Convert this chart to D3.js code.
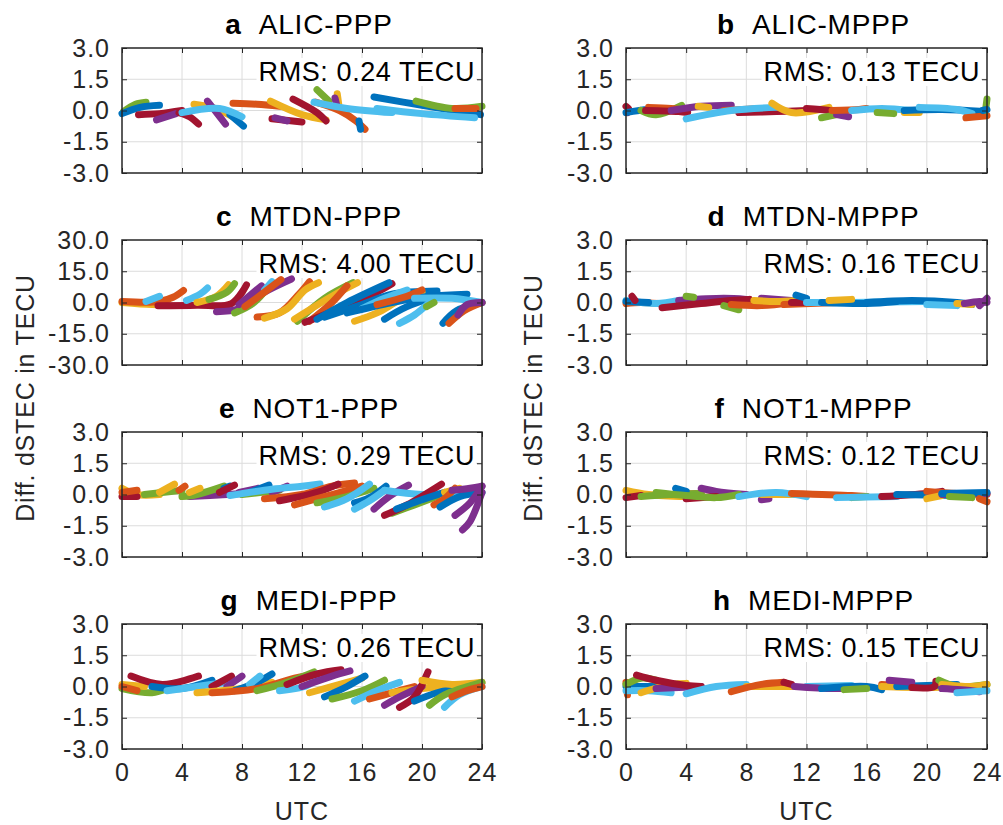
<!DOCTYPE html>
<html lang="en">
<head>
  <meta charset="UTF-8">
  <title>Diff. dSTEC PPP vs MPPP</title>
  <script src="https://d3js.org/d3.v7.min.js"></script>
  <style>
    body {
      margin: 0;
      background: #fff;
      font-family: "Liberation Sans", Arial, sans-serif;
    }
    .tick text {
      font-size: 25px;
      letter-spacing: 1px;
      fill: #262626;
    }
    .tick line {
      stroke: #262626;
    }
  </style>
</head>
<body>
  <script>
    // panel meta, order a..h (row by row, left PPP / right MPPP)
    const panelLetters = ["a", "b", "c", "d", "e", "f", "g", "h"];
    const panelNames = ["ALIC-PPP", "ALIC-MPPP", "MTDN-PPP", "MTDN-MPPP",
                        "NOT1-PPP", "NOT1-MPPP", "MEDI-PPP", "MEDI-MPPP"];
    const rmsValues = ["0.24", "0.13", "4.00", "0.16", "0.29", "0.12", "0.26", "0.15"];
    const yLimits = [3, 3, 30, 3, 3, 3, 3, 3];
    const xTicks = [0, 4, 8, 12, 16, 20, 24];
    const yTicksSmall = [-3, -1.5, 0, 1.5, 3];
    const yTicksLarge = [-30, -15, 0, 15, 30];
    const colorOrder = ["#0072BD", "#D95319", "#EDB120", "#7E2F8E", "#77AC30", "#4DBEEE", "#A2142F"];

    // satellite arcs: [colour index, t0, v0, t1, v1, ...] (UTC hours, TECU)
    const arcsA = [
      [4, 0.1, -0.05, 0.9, 0.3, 1.6, 0.4],
      [0, 0, -0.15, 1.2, 0.15, 2.5, 0.25],
      [6, 1.1, -0.2, 2.5, -0.15, 4, 0.0],
      [3, 2.3, -0.45, 3.6, -0.15],
      [6, 3.8, -0.1, 4.5, -0.3, 5.1, -0.65],
      [2, 4.8, 0.3, 6.2, 0.1, 7.5, -0.35],
      [3, 5.7, 0.45, 6.3, -0.1, 6.9, -0.65],
      [0, 7.2, -0.2, 8.1, -0.75],
      [5, 4, -0.1, 6.5, 0.1, 8, -0.3],
      [1, 7.4, 0.35, 9, 0.3, 10.5, 0.2],
      [6, 10, -0.4, 12, -0.55],
      [2, 9.9, 0.45, 12, -0.2, 13.6, -0.45],
      [3, 10.2, -0.35, 11, -0.5],
      [6, 11.4, 0.55, 13, -0.1, 13.6, -0.5],
      [4, 13, 1.0, 13.8, 0.45],
      [2, 14.35, 0.8, 14.45, 0.3],
      [3, 14.2, 0.6, 14.3, 0.3],
      [1, 12.9, 0.4, 14.5, 0.0, 15.6, -0.5, 16.2, -0.9],
      [5, 12.8, 0.4, 15, 0.1, 18, -0.1],
      [0, 15.8, -0.5, 15.9, -0.9],
      [0, 16.8, 0.65, 20, 0.25, 23.9, -0.2],
      [4, 19.6, 0.45, 22, 0.1, 24, 0.2],
      [5, 17, 0.1, 20, -0.15, 23.5, -0.35],
      [1, 22.2, 0.1, 23.6, 0.1]
    ];
    const arcsB = [
      [6, 0, 0.2, 0.2, 0.05, 0.1, -0.1],
      [0, 0, -0.1, 1.5, 0.05, 3, 0.0],
      [4, 1, 0.0, 2, -0.2, 3.7, 0.25],
      [1, 1.5, 0.15, 3, 0.1, 4, 0.0],
      [6, 1.3, 0.0, 3.5, -0.05, 4.1, -0.1],
      [3, 3, 0.0, 5, 0.2, 7, 0.25],
      [2, 4.8, 0.2, 5.5, 0.15],
      [1, 6.5, 0.0, 9, 0.1],
      [6, 7.5, -0.1, 10, -0.05, 12, 0.0],
      [5, 4, -0.4, 7, 0.0, 10, 0.15],
      [2, 9.7, 0.35, 11, -0.1, 13.5, 0.15],
      [6, 12, 0.1, 13.5, 0.0, 14.5, -0.2],
      [4, 13, -0.35, 14, -0.2],
      [3, 14, -0.2, 14.8, -0.3],
      [1, 13.7, 0.0, 15.5, 0.05, 16, 0.1],
      [5, 15, 0.0, 17, 0.1, 19, 0.0],
      [4, 16.7, -0.1, 17.8, -0.15],
      [2, 18.5, -0.1, 19.5, -0.1],
      [0, 18.5, 0.0, 21, 0.05, 23.8, -0.05],
      [5, 19.5, 0.15, 22, 0.05, 23, -0.15],
      [1, 22.6, -0.35, 24, -0.25],
      [4, 23.9, 0.0, 24, 0.55],
      [0, 23.7, 0.0, 24, 0.05]
    ];
    const arcsC = [
      [2, 0, 0, 2, -1, 3, -1],
      [1, 0, 0.5, 2.5, 0.5, 3.4, 2.5, 4.1, 5.8],
      [5, 1.6, 0.5, 2.5, 3],
      [6, 2.4, -1.5, 5, -1.3, 7.3, -0.5, 8.3, 8.5],
      [5, 4.3, 1.0, 5.2, 4, 5.7, 7],
      [2, 5, 0, 6.3, 3, 7.1, 8.5],
      [4, 5.8, 1.5, 7, 5, 7.5, 9],
      [3, 6.3, -4.4, 7.8, -3, 9.5, 5, 11.3, 11.3],
      [4, 7.5, -5, 8.8, 0, 9.8, 8],
      [3, 7.8, -1, 9.3, 8],
      [5, 9.5, 6, 10, 10],
      [1, 8.2, -2, 9.5, 5, 10.6, 11],
      [1, 9, -7, 10.5, -5, 11.8, 4, 12.5, 10],
      [2, 9.5, -7.5, 11, -3, 12.2, 6, 13.1, 9.5],
      [4, 11.7, -9, 13.5, 2, 15.4, 9.5],
      [2, 11.5, -8, 14, 3, 15.7, 9.5],
      [1, 12.5, -9, 14, 0, 15, 8],
      [6, 12.2, -9.5, 14.5, -3, 17, 5, 18, 9],
      [0, 13, -8, 15, 0, 17.8, 9.5],
      [0, 13.5, -7, 16, -1, 18, 4, 21, 5.5],
      [5, 16, -3, 17.5, 2, 19, 6],
      [2, 15.5, -9, 17, -5, 18.5, 1, 20, 5],
      [0, 15, -5, 18, 0, 20.5, 3, 23, 4],
      [1, 17, -1, 19, 3, 20, 6],
      [0, 17.5, -8, 19, -2, 21, 3],
      [5, 18.5, -10, 19.5, -6, 20.5, 0],
      [5, 19.5, 2, 22, 2, 24, 0],
      [4, 20.3, -2, 20.8, 0],
      [0, 21.4, -10, 22.3, -4, 24, 0],
      [1, 21.8, -10, 22.8, -4, 24, 0],
      [3, 22.4, -6, 23, -1, 24, 0]
    ];
    const arcsD = [
      [1, 0, -0.05, 1, 0.0, 3, -0.1, 4, -0.1],
      [5, 0, 0.1, 2, -0.05, 3.5, 0.1],
      [0, 0, 0.05, 1.5, 0.0],
      [6, 0.4, 0.3, 0.6, 0.1],
      [3, 3.5, 0.1, 6.5, 0.2, 8, 0.15],
      [6, 2.4, -0.25, 5, -0.05, 7, 0.1, 8.2, 0.15],
      [4, 4, 0.3, 4.5, 0.25],
      [4, 6.5, -0.15, 7.5, -0.35],
      [1, 7, -0.1, 9, -0.15, 11, 0.0],
      [3, 9, 0.2, 11, 0.1],
      [2, 8.5, 0.1, 10, 0.05, 11.3, 0.1],
      [1, 10.5, -0.1, 14, 0.0],
      [6, 11, 0.0, 13, 0.0],
      [0, 11.3, 0.35, 12, 0.2],
      [5, 12, 0.0, 15, 0.0, 20, 0.05],
      [0, 13, 0.0, 16, -0.05, 18, 0.05],
      [2, 13.5, 0.1, 15, 0.15],
      [0, 16, 0.0, 19, 0.1, 22, 0.0, 23, -0.1],
      [5, 20, -0.1, 22, -0.15],
      [2, 22, -0.05, 23, -0.1],
      [3, 22.5, -0.05, 23.5, 0.05, 24, 0.0],
      [3, 23.5, -0.15, 24, 0.2]
    ];
    const arcsE = [
      [2, 0, 0.3, 1, 0.0, 2.5, 0.0],
      [6, 0, -0.1, 1, -0.1],
      [1, 0, 0.1, 1, 0.2],
      [4, 1.5, 0.0, 4, 0.2],
      [2, 2.5, 0.1, 3.5, 0.5],
      [1, 3.8, 0.2, 4.2, 0.4],
      [3, 4.5, -0.1, 7, 0.0, 8, 0.05],
      [4, 4, -0.1, 5, 0.0, 6.8, 0.4],
      [2, 4.5, 0.1, 5.2, 0.3],
      [0, 6.8, 0.3, 7.2, 0.4],
      [6, 6.5, 0.1, 7.5, 0.45],
      [3, 7.8, 0.1, 9.1, 0.3],
      [0, 8.5, 0.1, 9.8, 0.45],
      [4, 8, 0.0, 10.5, 0.2],
      [3, 10, 0.1, 11, 0.4],
      [5, 7.2, -0.05, 10, 0.25, 12, 0.4, 13.2, 0.5],
      [1, 9.5, -0.2, 12, 0.0, 14, 0.4, 15.5, 0.55],
      [6, 10.5, -0.3, 13, 0.1, 14.4, 0.5],
      [1, 11.5, -0.5, 14, 0.0, 16, 0.4],
      [4, 13, -0.4, 15, -0.1, 16.8, 0.3],
      [5, 13.5, -0.6, 15, -0.2, 16.5, 0.5],
      [0, 15.5, -0.4, 16.5, -0.15, 17.6, 0.4],
      [5, 15.5, -0.7, 16.5, -0.3, 17.5, 0.2],
      [3, 16.8, -0.7, 17.8, -0.1, 19.1, 0.45],
      [5, 17.5, 0.2, 20, 0.0, 22.4, 0.1],
      [4, 18, -0.9, 19.5, -0.5, 21, -0.1],
      [6, 17.5, -1.0, 19, -0.5, 21.3, 0.5],
      [0, 18.3, -0.7, 19.8, -0.3, 21.5, 0.1],
      [2, 21.5, 0.1, 22.5, 0.3],
      [1, 20.8, -0.5, 21.5, -0.2, 22.2, 0.3],
      [0, 21.2, -0.6, 22.5, -0.1, 24, 0.1],
      [3, 22, 0.2, 23.2, 0.3, 24, 0.4],
      [3, 22.2, -1.0, 23.2, -0.4, 24, 0.4],
      [3, 22.7, -1.7, 23.2, -1.3, 24, 0.1]
    ];
    const arcsF = [
      [2, 0, 0.2, 1.5, 0.0, 4, -0.1],
      [6, 0, -0.15, 1, -0.05],
      [1, 3, 0.0, 5, 0.05],
      [4, 1, -0.1, 3, 0.0, 5, 0.05],
      [0, 3.3, 0.3, 4, 0.15],
      [3, 5, 0.3, 6, 0.15, 8, 0.0],
      [6, 4, -0.2, 6, -0.1],
      [4, 2, 0.1, 4, -0.05, 6, -0.15, 7.5, 0.0],
      [3, 9, -0.25, 9.5, -0.2],
      [2, 9, 0.0, 12, 0.0],
      [5, 7.5, -0.1, 10, 0.1, 12, -0.1],
      [1, 11, 0.05, 15, -0.05, 16, -0.1],
      [4, 15, -0.15, 16, -0.1],
      [5, 14, -0.15, 18, -0.1],
      [6, 17, -0.1, 20, 0.05, 21, 0.15],
      [0, 18, 0.0, 22, -0.05],
      [1, 20, 0.15, 22, 0.05, 24, 0.0],
      [2, 20, -0.2, 21, -0.05],
      [3, 21, 0.0, 24, 0.05],
      [0, 21, 0.05, 24, 0.1],
      [4, 21.5, -0.1, 23, -0.15],
      [1, 23.5, -0.2, 24, -0.35]
    ];
    const arcsG = [
      [4, 0, -0.1, 2, -0.3, 3, -0.1],
      [2, 0, 0.1, 1.5, 0.0],
      [1, 0, 0.0, 1, -0.2],
      [6, 0.6, 0.5, 2.7, 0.1, 5.1, 0.5],
      [0, 2, 0.0, 4, -0.1, 6, 0.3],
      [5, 3, -0.2, 5, 0.0, 7, 0.2],
      [6, 6, 0.0, 7.3, 0.5],
      [3, 7, 0.0, 8, 0.5],
      [2, 5, -0.3, 8, -0.1, 10, 0.2],
      [0, 7.5, -0.2, 9, 0.2, 10, 0.6],
      [5, 8.5, 0.1, 9.2, 0.5],
      [1, 6, -0.3, 9, -0.1, 11.5, 0.4, 13, 0.6],
      [4, 9, -0.2, 11, 0.2, 12.8, 0.7],
      [5, 10.5, -0.2, 12.5, 0.1, 13, 0.6],
      [6, 11, 0.1, 13, 0.6, 14.6, 0.8],
      [3, 12, 0.0, 14, 0.5, 15.2, 0.75],
      [2, 12.5, -0.3, 15, 0.2, 16, 0.4],
      [0, 13.5, -0.5, 15, 0.0, 16.2, 0.5],
      [4, 14, -0.6, 16, -0.2, 17.5, 0.3],
      [5, 15.5, -0.7, 17, -0.2, 18.5, 0.2],
      [1, 16.5, -0.6, 18, -0.3, 19.5, 0.0],
      [2, 18, -0.3, 20, -0.1, 22, 0.0],
      [3, 17.5, -0.9, 18.5, -0.5, 20, 0.0],
      [6, 18.5, -1.0, 19.5, -0.5, 20.4, 0.7],
      [0, 19.5, -0.7, 21, -0.3, 23, 0.0],
      [2, 20, 0.3, 22, 0.1, 24, 0.2],
      [4, 20.5, -0.9, 21.5, -0.4, 24, 0.2],
      [5, 21.5, -1.0, 22.5, -0.4, 24, 0.0],
      [1, 22, -0.5, 23, -0.2, 24, 0.0]
    ];
    const arcsH = [
      [1, 0, 0.2, 0.1, -0.4],
      [0, 0, 0.0, 2, 0.0],
      [5, 0, -0.2, 1.5, -0.2, 3, -0.3],
      [4, 0, 0.1, 1, 0.4, 2, 0.3],
      [2, 1, -0.3, 3, 0.1, 4, 0.15],
      [3, 2, -0.1, 5, 0.0],
      [6, 0.7, 0.55, 2, 0.3, 4, 0.05, 5, 0.0],
      [5, 4, -0.35, 6, 0.0, 8, 0.1],
      [2, 8, 0.0, 11, 0.0],
      [1, 7, -0.25, 9, 0.1, 10.5, 0.2],
      [6, 10.5, 0.2, 11, 0.1],
      [5, 12, 0.0, 15, 0.05],
      [3, 11.2, 0.0, 14, -0.1, 15.5, 0.0],
      [0, 13, -0.1, 16, 0.0, 17, -0.15],
      [4, 14.5, -0.15, 16, -0.1],
      [1, 17, 0.1, 19, 0.0],
      [2, 17, 0.0, 20, -0.05, 22, 0.0],
      [0, 18, 0.0, 22, 0.1],
      [3, 17.5, 0.3, 19, 0.2],
      [6, 19, -0.05, 20.5, 0.0, 20.6, 0.25],
      [4, 20.8, 0.3, 22, 0.0, 24, 0.1],
      [2, 21, 0.1, 23, 0.0, 24, 0.1],
      [3, 21, -0.1, 23, -0.2, 23.5, -0.25],
      [5, 22, -0.3, 24, -0.2]
    ];
    const panelArcs = [arcsA, arcsB, arcsC, arcsD, arcsE, arcsF, arcsG, arcsH];

    const width = 1003, height = 825;
    const colLeft = [122, 626], colWidth = [360, 361];
    const rowTop = [48, 240, 432, 624], panelH = 125;

    const svg = d3.select("body").append("svg")
      .attr("width", width)
      .attr("height", height);

    const fmt = d => d.toFixed(1);

    panelLetters.forEach((letter, i) => {
      const row = Math.floor(i / 2), col = i % 2;
      const left = colLeft[col], top = rowTop[row], w = colWidth[col];
      const lim = yLimits[i];
      const yTicks = lim === 30 ? yTicksLarge : yTicksSmall;

      const x = d3.scaleLinear().domain([0, 24]).range([left, left + w]);
      const y = d3.scaleLinear().domain([-lim, lim]).range([top + panelH, top]);

      const g = svg.append("g");

      // grid
      g.append("g").selectAll("line")
        .data(xTicks.slice(1, -1))
        .join("line")
        .attr("x1", d => x(d)).attr("x2", d => x(d))
        .attr("y1", top).attr("y2", top + panelH)
        .attr("stroke", "#dcdcdc").attr("stroke-width", 1);
      g.append("g").selectAll("line")
        .data(yTicks.slice(1, -1))
        .join("line")
        .attr("x1", left).attr("x2", left + w)
        .attr("y1", d => y(d)).attr("y2", d => y(d))
        .attr("stroke", "#dcdcdc").attr("stroke-width", 1);

      // RMS label with white background (behind the arcs is fine, arcs stay low)
      const labelG = g.append("g");
      const bgRect = labelG.append("rect").attr("fill", "#fff");
      const rms = labelG.append("text")
        .attr("x", left + w - 7)
        .attr("y", top + 33)
        .attr("text-anchor", "end")
        .attr("font-size", 27)
        .attr("letter-spacing", 0.6)
        .attr("fill", "#000")
        .text(`RMS: ${rmsValues[i]} TECU`);
      const bb = rms.node().getBBox();
      bgRect.attr("x", bb.x - 2).attr("y", top + 10)
        .attr("width", bb.width + 3).attr("height", 28);

      // arcs
      const line = d3.line()
        .x(d => x(d[0]))
        .y(d => y(d[1]))
        .curve(d3.curveCatmullRom.alpha(0.5));
      const arcs = panelArcs[i].map(a => {
        const pts = [];
        for (let k = 1; k < a.length; k += 2) pts.push([a[k], a[k + 1]]);
        return { c: a[0], pts };
      });
      g.append("g").selectAll("path")
        .data(arcs)
        .join("path")
        .attr("d", d => line(d.pts))
        .attr("fill", "none")
        .attr("stroke", d => colorOrder[d.c])
        .attr("stroke-width", 7)
        .attr("stroke-linecap", "round")
        .attr("stroke-linejoin", "round");

      // axes (ticks inward)
      const yAxis = g.append("g")
        .attr("transform", `translate(${left},0)`)
        .call(d3.axisLeft(y).tickValues(yTicks).tickSize(-5).tickPadding(12).tickFormat(fmt));
      yAxis.select(".domain").remove();
      const yAxisR = g.append("g")
        .attr("transform", `translate(${left + w},0)`)
        .call(d3.axisRight(y).tickValues(yTicks).tickSize(-5).tickFormat(""));
      yAxisR.select(".domain").remove();
      const xAxisT = g.append("g")
        .attr("transform", `translate(0,${top})`)
        .call(d3.axisTop(x).tickValues(xTicks).tickSize(-5).tickFormat(""));
      xAxisT.select(".domain").remove();
      const xAxisB = g.append("g")
        .attr("transform", `translate(0,${top + panelH})`)
        .call(d3.axisBottom(x).tickValues(xTicks).tickSize(-5).tickPadding(14)
          .tickFormat(row === 3 ? d3.format("d") : ""));
      xAxisB.select(".domain").remove();
      g.selectAll(".tick text").attr("font-family", "Liberation Sans, Arial, sans-serif");

      g.append("rect")
        .attr("x", left).attr("y", top)
        .attr("width", w).attr("height", panelH)
        .attr("fill", "none")
        .attr("stroke", "#262626")
        .attr("stroke-width", 1.5);

      // title
      const title = svg.append("text")
        .attr("x", left + w / 2 + 7)
        .attr("y", top - 14)
        .attr("text-anchor", "middle")
        .attr("font-size", 28)
        .attr("letter-spacing", 0.8)
        .attr("fill", "#000");
      title.append("tspan").attr("font-weight", "bold").text(letter);
      title.append("tspan").text("\u00a0\u00a0" + panelNames[i]);

      if (row === 3) {
        svg.append("text")
          .attr("x", left + w / 2)
          .attr("y", 820)
          .attr("text-anchor", "middle")
          .attr("font-size", 25)
          .attr("letter-spacing", 1)
          .attr("fill", "#262626")
          .text("UTC");
      }
    });

    // y labels
    [34, 542].forEach(xp => {
      svg.append("text")
        .attr("transform", `translate(${xp},398) rotate(-90)`)
        .attr("text-anchor", "middle")
        .attr("font-size", 25)
        .attr("letter-spacing", 0.8)
        .attr("fill", "#262626")
        .text("Diff. dSTEC in TECU");
    });
  </script>
</body>
</html>
